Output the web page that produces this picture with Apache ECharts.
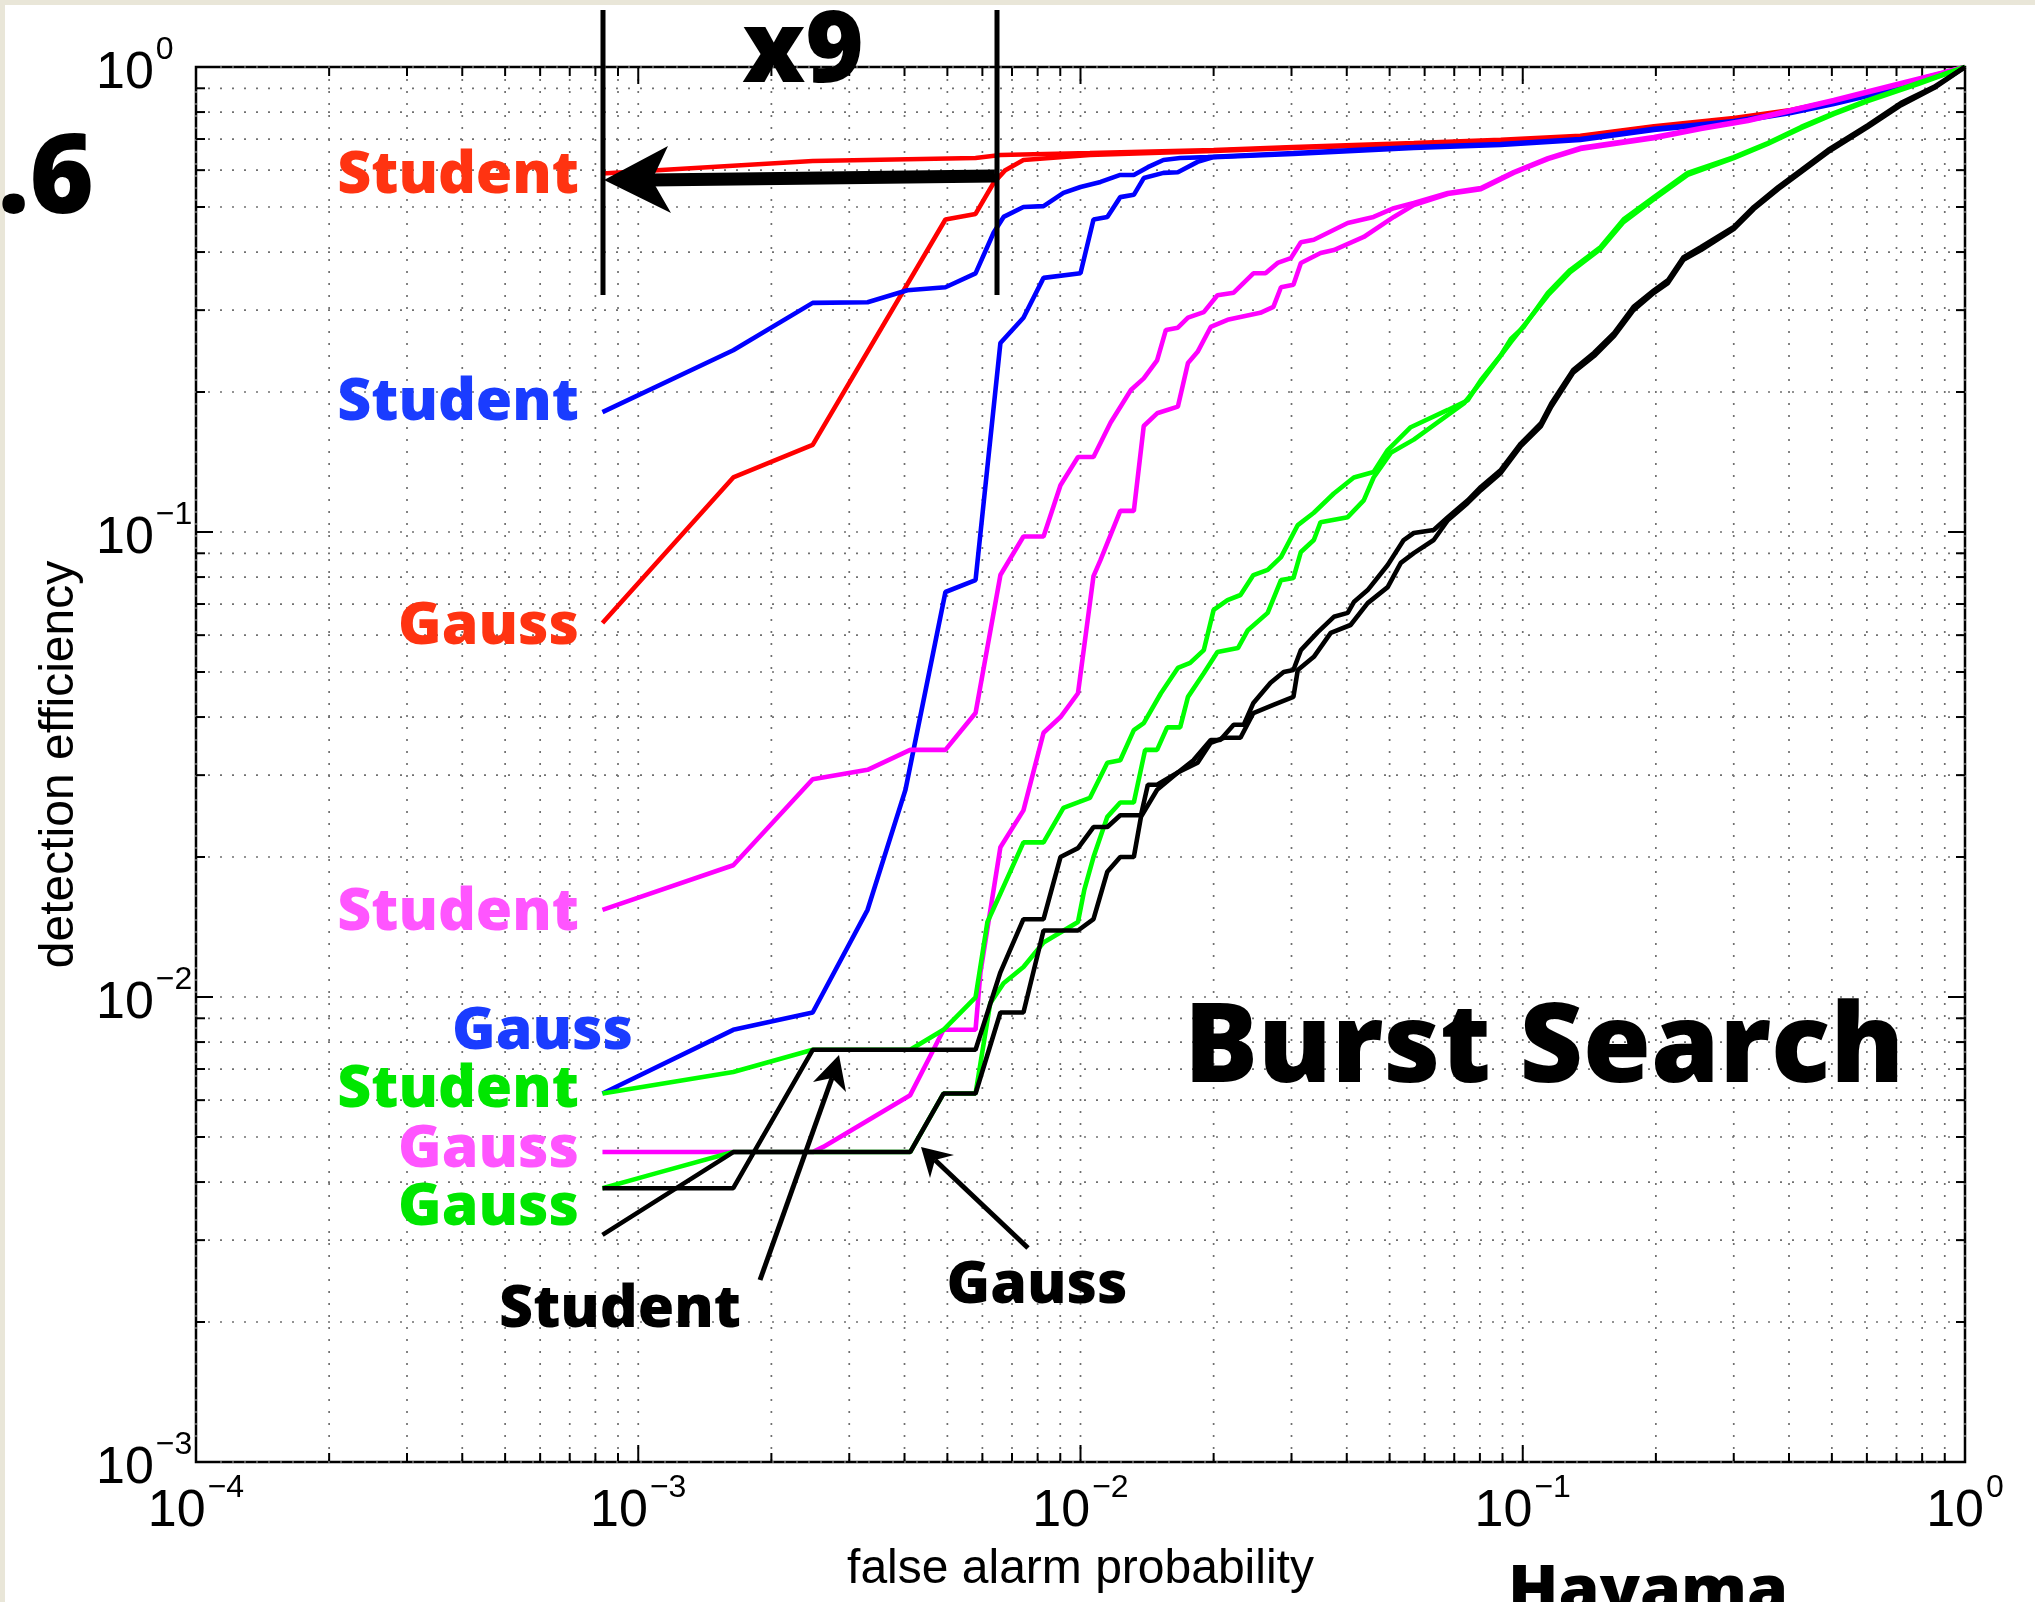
<!DOCTYPE html>
<html>
<head>
<meta charset="utf-8">
<script src="https://cdn.jsdelivr.net/npm/echarts@6/dist/echarts.min.js"></script>
<style>
  html, body { margin: 0; padding: 0; background: #fff; }
  #chart { width: 2035px; height: 1602px; }
</style>
</head>
<body>
<div id="chart"></div>
<script>
// axis ranges and tick positions
const X_MIN = 1e-4, X_MAX = 1, Y_MIN = 1e-3, Y_MAX = 1;
const xDecades = [1e-4, 1e-3, 1e-2, 1e-1];
const yDecades = [1e-3, 1e-2, 1e-1];
const minorSteps = [2, 3, 4, 5, 6, 7, 8, 9];

// curves: [false alarm probability, detection efficiency]
const redStudent = [[8.3e-4,0.590],[2.48e-3,0.628],[5.79e-3,0.637],[6.59e-3,0.647],[1.05e-2,0.653],[2.0e-2,0.663],[3.03e-2,0.673],[5.67e-2,0.686],[8.92e-2,0.697],[0.135,0.711],[0.198,0.746],[0.300,0.777],[0.404,0.808],[0.505,0.845],[0.717,0.910],[1,1]];
const redGauss = [[8.3e-4,0.0637],[1.64e-3,0.131],[2.48e-3,0.154],[4.95e-3,0.470],[5.79e-3,0.483],[6.36e-3,0.563],[6.76e-3,0.600],[7.43e-3,0.631],[1.05e-2,0.647],[2.0e-2,0.660],[3.03e-2,0.670],[5.67e-2,0.683],[8.92e-2,0.694],[0.135,0.709],[0.198,0.743],[0.300,0.773],[0.404,0.804],[0.505,0.841],[0.717,0.906],[1,1]];

const blueStudent = [[8.3e-4,0.181],[1.64e-3,0.246],[2.48e-3,0.311],[3.30e-3,0.312],[4.06e-3,0.331],[4.95e-3,0.336],[5.79e-3,0.360],[6.36e-3,0.440],[6.70e-3,0.476],[7.43e-3,0.500],[8.25e-3,0.502],[9.15e-3,0.536],[1.0e-2,0.552],[1.11e-2,0.566],[1.23e-2,0.586],[1.32e-2,0.586],[1.42e-2,0.609],[1.54e-2,0.631],[1.68e-2,0.637],[1.94e-2,0.640],[3.03e-2,0.653],[5.67e-2,0.673],[8.92e-2,0.683],[0.135,0.700],[0.198,0.736],[0.300,0.765],[0.404,0.800],[0.505,0.837],[0.717,0.903],[1,1]];
const blueGauss = [[8.3e-4,0.0062],[1.64e-3,0.0085],[2.48e-3,0.00926],[3.30e-3,0.0154],[4.02e-3,0.0279],[4.95e-3,0.0743],[5.79e-3,0.0788],[6.59e-3,0.255],[7.43e-3,0.289],[8.25e-3,0.352],[1.0e-2,0.360],[1.07e-2,0.470],[1.15e-2,0.476],[1.23e-2,0.525],[1.32e-2,0.531],[1.39e-2,0.577],[1.54e-2,0.592],[1.66e-2,0.594],[1.84e-2,0.625],[2.0e-2,0.640],[3.03e-2,0.650],[5.67e-2,0.670],[8.92e-2,0.680],[0.135,0.697],[0.198,0.732],[0.300,0.761],[0.404,0.796],[0.505,0.833],[0.717,0.901],[1,1]];

const magentaStudent = [[8.3e-4,0.0154],[1.64e-3,0.0192],[2.48e-3,0.0294],[3.30e-3,0.0308],[4.12e-3,0.034],[4.95e-3,0.034],[5.79e-3,0.0408],[6.59e-3,0.0808],[7.43e-3,0.0978],[8.25e-3,0.0978],[9.01e-3,0.126],[9.87e-3,0.145],[1.07e-2,0.145],[1.17e-2,0.172],[1.30e-2,0.202],[1.39e-2,0.214],[1.49e-2,0.234],[1.56e-2,0.272],[1.66e-2,0.275],[1.75e-2,0.289],[1.90e-2,0.297],[2.04e-2,0.323],[2.22e-2,0.327],[2.46e-2,0.360],[2.62e-2,0.360],[2.79e-2,0.379],[2.99e-2,0.388],[3.15e-2,0.420],[3.37e-2,0.425],[4.02e-2,0.462],[4.60e-2,0.476],[5.11e-2,0.497],[5.67e-2,0.510],[6.77e-2,0.536],[8.04e-2,0.549],[9.54e-2,0.594],[0.114,0.637],[0.135,0.670],[0.198,0.707],[0.253,0.739],[0.323,0.769],[0.404,0.808],[0.505,0.849],[0.717,0.924],[1,1]];
const magentaGauss = [[8.3e-4,0.00464],[1.64e-3,0.00464],[2.48e-3,0.00464],[2.62e-3,0.00476],[4.12e-3,0.00615],[4.65e-3,0.0077],[4.90e-3,0.0085],[5.79e-3,0.0085],[5.94e-3,0.0113],[6.59e-3,0.0210],[7.43e-3,0.0252],[8.25e-3,0.037],[9.01e-3,0.040],[9.87e-3,0.045],[1.07e-2,0.0804],[1.11e-2,0.0871],[1.23e-2,0.111],[1.32e-2,0.111],[1.39e-2,0.169],[1.49e-2,0.180],[1.66e-2,0.186],[1.75e-2,0.231],[1.84e-2,0.244],[1.97e-2,0.276],[2.15e-2,0.286],[2.55e-2,0.296],[2.73e-2,0.305],[2.84e-2,0.336],[3.03e-2,0.340],[3.15e-2,0.379],[3.49e-2,0.398],[3.74e-2,0.404],[4.37e-2,0.431],[5.11e-2,0.476],[5.67e-2,0.505],[6.77e-2,0.533],[8.04e-2,0.546],[9.54e-2,0.592],[0.114,0.634],[0.135,0.666],[0.198,0.703],[0.253,0.736],[0.323,0.765],[0.404,0.804],[0.505,0.845],[0.717,0.919],[1,1]];

const greenStudent = [[8.3e-4,0.0062],[1.64e-3,0.0069],[2.48e-3,0.0077],[4.12e-3,0.0077],[4.90e-3,0.0085],[5.79e-3,0.00998],[6.16e-3,0.0145],[6.59e-3,0.0167],[7.43e-3,0.0215],[8.25e-3,0.0215],[9.15e-3,0.0255],[1.05e-2,0.0268],[1.15e-2,0.0319],[1.23e-2,0.0323],[1.32e-2,0.0375],[1.39e-2,0.0388],[1.52e-2,0.045],[1.66e-2,0.051],[1.77e-2,0.0523],[1.90e-2,0.0557],[2.0e-2,0.068],[2.15e-2,0.0714],[2.30e-2,0.0732],[2.46e-2,0.0808],[2.65e-2,0.0829],[2.84e-2,0.0883],[3.10e-2,0.1035],[3.37e-2,0.110],[3.74e-2,0.121],[4.15e-2,0.131],[4.60e-2,0.1346],[4.95e-2,0.150],[5.58e-2,0.168],[6.77e-2,0.183],[7.51e-2,0.192],[8.04e-2,0.212],[8.92e-2,0.240],[9.40e-2,0.260],[0.1005,0.276],[0.114,0.327],[0.128,0.366],[0.150,0.410],[0.169,0.470],[0.198,0.525],[0.236,0.592],[0.300,0.640],[0.358,0.686],[0.426,0.743],[0.505,0.796],[0.603,0.849],[0.783,0.924],[1,1]];
const greenGauss = [[8.3e-4,0.00388],[1.10e-3,0.00418],[1.64e-3,0.00464],[4.12e-3,0.00464],[4.90e-3,0.0062],[5.79e-3,0.0062],[6.25e-3,0.0097],[6.70e-3,0.0107],[7.43e-3,0.0116],[8.25e-3,0.0131],[9.87e-3,0.0145],[1.02e-2,0.017],[1.07e-2,0.020],[1.15e-2,0.0244],[1.23e-2,0.0262],[1.32e-2,0.0262],[1.40e-2,0.034],[1.49e-2,0.034],[1.57e-2,0.038],[1.68e-2,0.038],[1.75e-2,0.0442],[1.90e-2,0.0497],[2.04e-2,0.0552],[2.27e-2,0.0563],[2.39e-2,0.0615],[2.65e-2,0.067],[2.84e-2,0.0788],[3.03e-2,0.0796],[3.15e-2,0.0906],[3.37e-2,0.0961],[3.49e-2,0.105],[4.02e-2,0.1076],[4.37e-2,0.117],[4.60e-2,0.131],[5.03e-2,0.148],[5.67e-2,0.158],[7.36e-2,0.189],[8.04e-2,0.210],[9.40e-2,0.256],[0.114,0.323],[0.128,0.362],[0.150,0.406],[0.169,0.464],[0.198,0.520],[0.236,0.586],[0.300,0.637],[0.358,0.683],[0.426,0.739],[0.505,0.792],[0.603,0.845],[0.783,0.919],[1,1]];

const blackStudent = [[8.3e-4,0.00388],[1.64e-3,0.00388],[2.48e-3,0.0077],[5.79e-3,0.0077],[6.59e-3,0.0113],[7.43e-3,0.0147],[8.25e-3,0.0147],[9.01e-3,0.020],[9.87e-3,0.0209],[1.07e-2,0.0232],[1.15e-2,0.0232],[1.23e-2,0.0246],[1.37e-2,0.0246],[1.42e-2,0.0286],[1.49e-2,0.0286],[1.66e-2,0.0304],[1.80e-2,0.0323],[1.97e-2,0.0357],[2.07e-2,0.0357],[2.22e-2,0.0385],[2.34e-2,0.0385],[2.46e-2,0.0429],[2.69e-2,0.0474],[2.88e-2,0.050],[3.03e-2,0.0505],[3.15e-2,0.0557],[3.44e-2,0.0609],[3.74e-2,0.0657],[4.02e-2,0.067],[4.15e-2,0.0707],[4.46e-2,0.075],[4.95e-2,0.0849],[5.38e-2,0.0961],[5.67e-2,0.0995],[6.29e-2,0.101],[6.77e-2,0.1076],[7.51e-2,0.117],[8.04e-2,0.125],[8.92e-2,0.136],[9.90e-2,0.155],[0.110,0.1715],[0.116,0.189],[0.130,0.223],[0.145,0.243],[0.161,0.268],[0.178,0.305],[0.198,0.331],[0.213,0.348],[0.231,0.390],[0.253,0.410],[0.300,0.453],[0.333,0.500],[0.378,0.552],[0.426,0.600],[0.490,0.663],[0.603,0.750],[0.717,0.837],[0.851,0.906],[1,1]];
const blackGauss = [[8.3e-4,0.00308],[1.64e-3,0.00464],[4.12e-3,0.00464],[4.90e-3,0.0062],[5.79e-3,0.0062],[6.59e-3,0.00926],[7.43e-3,0.00926],[8.25e-3,0.0139],[9.87e-3,0.0139],[1.07e-2,0.0147],[1.15e-2,0.0186],[1.23e-2,0.020],[1.32e-2,0.020],[1.37e-2,0.0244],[1.49e-2,0.0279],[1.66e-2,0.0304],[1.84e-2,0.0319],[1.97e-2,0.0352],[2.11e-2,0.0361],[2.30e-2,0.0361],[2.46e-2,0.0408],[2.73e-2,0.0425],[3.03e-2,0.0442],[3.10e-2,0.0505],[3.37e-2,0.0539],[3.68e-2,0.0607],[4.08e-2,0.0631],[4.46e-2,0.0703],[4.95e-2,0.0761],[5.30e-2,0.0858],[5.67e-2,0.0901],[6.29e-2,0.0961],[6.77e-2,0.106],[7.51e-2,0.1155],[8.04e-2,0.123],[8.92e-2,0.134],[9.90e-2,0.153],[0.110,0.169],[0.116,0.186],[0.130,0.220],[0.145,0.239],[0.161,0.264],[0.178,0.300],[0.198,0.327],[0.213,0.343],[0.231,0.385],[0.253,0.404],[0.300,0.448],[0.333,0.495],[0.378,0.546],[0.426,0.594],[0.490,0.656],[0.603,0.743],[0.717,0.828],[0.851,0.901],[1,1]];

const curves = [
  { name: 'red Student', data: redStudent, color: '#ff0000' },
  { name: 'red Gauss', data: redGauss, color: '#ff0000' },
  { name: 'blue Student', data: blueStudent, color: '#0000ff' },
  { name: 'blue Gauss', data: blueGauss, color: '#0000ff' },
  { name: 'magenta Student', data: magentaStudent, color: '#ff00ff' },
  { name: 'magenta Gauss', data: magentaGauss, color: '#ff00ff' },
  { name: 'green Student', data: greenStudent, color: '#00ff00' },
  { name: 'green Gauss', data: greenGauss, color: '#00ff00' },
  { name: 'black Student', data: blackStudent, color: '#000000' },
  { name: 'black Gauss', data: blackGauss, color: '#000000' }
];

// grid line / tick positions (1 = decade, 0 = minor)
const xTicks = [];
xDecades.forEach(d => {
  xTicks.push([d, Y_MIN, 1]);
  minorSteps.forEach(k => xTicks.push([k * d, Y_MIN, 0]));
});
xTicks.push([X_MAX, Y_MIN, 1]);
const yTicks = [];
yDecades.forEach(d => {
  yTicks.push([X_MIN, d, 1]);
  minorSteps.forEach(k => yTicks.push([X_MIN, k * d, 0]));
});
yTicks.push([X_MIN, Y_MAX, 1]);

const dotStyle = { stroke: '#707070', lineWidth: 1.7, lineDash: [2, 10] };
const tickStyle = { stroke: '#000', lineWidth: 2 };

function renderXGrid(params, api) {
  const cs = params.coordSys;
  const px = api.coord([api.value(0), Y_MIN])[0];
  const len = api.value(2) ? 17 : 9;
  const top = cs.y, bottom = cs.y + cs.height;
  return {
    type: 'group',
    children: [
      { type: 'line', shape: { x1: px, y1: top, x2: px, y2: bottom }, style: dotStyle },
      { type: 'line', shape: { x1: px, y1: bottom, x2: px, y2: bottom - len }, style: tickStyle },
      { type: 'line', shape: { x1: px, y1: top, x2: px, y2: top + len }, style: tickStyle }
    ]
  };
}

function renderYGrid(params, api) {
  const cs = params.coordSys;
  const py = api.coord([X_MIN, api.value(1)])[1];
  const len = api.value(2) ? 17 : 9;
  const left = cs.x, right = cs.x + cs.width;
  return {
    type: 'group',
    children: [
      { type: 'line', shape: { x1: left, y1: py, x2: right, y2: py }, style: dotStyle },
      { type: 'line', shape: { x1: left, y1: py, x2: left + len, y2: py }, style: tickStyle },
      { type: 'line', shape: { x1: right, y1: py, x2: right - len, y2: py }, style: tickStyle }
    ]
  };
}

// 10^n style tick labels
function powLabel(v) {
  const e = Math.round(Math.log10(v));
  return '{b|10}{s|' + (e < 0 ? '\u2212' + (-e) : e) + '}';
}
const labelRich = {
  b: { fontSize: 52, fontFamily: 'Liberation Sans', color: '#000', verticalAlign: 'bottom', padding: [14, 0, 0, 0] },
  s: { fontSize: 32, fontFamily: 'Liberation Sans', color: '#000', verticalAlign: 'top', padding: [0, 0, 0, 2] }
};

const annoFont = '"Open Sans", "Lato", sans-serif';
function label(text, x, y, color, align) {
  return {
    type: 'text', z: 100, silent: true,
    style: { text: text, x: x, y: y, fill: color, font: '800 59px ' + annoFont, align: align || 'right', verticalAlign: 'middle' }
  };
}

const chart = echarts.init(document.getElementById('chart'));

const option = {
  backgroundColor: '#fff',
  animation: false,
  grid: {
    left: 196, top: 67, width: 1769, height: 1395,
    show: true, borderColor: '#000', borderWidth: 2.5, backgroundColor: '#fff'
  },
  xAxis: {
    type: 'log', logBase: 10, min: X_MIN, max: X_MAX,
    axisLine: { show: false }, axisTick: { show: false }, splitLine: { show: false },
    axisLabel: { formatter: powLabel, rich: labelRich, margin: 10 },
    name: 'false alarm probability', nameLocation: 'middle', nameGap: 84,
    nameTextStyle: { fontFamily: 'Liberation Sans', fontSize: 48, color: '#000' }
  },
  yAxis: {
    type: 'log', logBase: 10, min: Y_MIN, max: Y_MAX,
    axisLine: { show: false }, axisTick: { show: false }, splitLine: { show: false },
    axisLabel: { formatter: powLabel, rich: labelRich, margin: 100, align: 'left' },
    name: 'detection efficiency', nameLocation: 'middle', nameGap: 112,
    nameTextStyle: { fontFamily: 'Liberation Sans', fontSize: 48, color: '#000' }
  },
  series: [
    { type: 'custom', name: 'xgrid', data: xTicks, encode: { x: 0, y: 1 }, renderItem: renderXGrid, silent: true, z: 1 },
    { type: 'custom', name: 'ygrid', data: yTicks, encode: { x: 0, y: 1 }, renderItem: renderYGrid, silent: true, z: 1 }
  ].concat(curves.map(c => ({
    type: 'line', name: c.name, data: c.data, showSymbol: false, symbol: 'none',
    lineStyle: { color: c.color, width: 4.6 }, itemStyle: { color: c.color },
    silent: true, z: 3
  }))),
  graphic: [
    // slide margin
    { type: 'rect', z: 100, shape: { x: 0, y: 0, width: 2035, height: 5 }, style: { fill: '#e9e6d8' } },
    { type: 'rect', z: 100, shape: { x: 0, y: 0, width: 5, height: 1602 }, style: { fill: '#e9e6d8' } },
    // x9 bracket and arrow
    { type: 'line', z: 100, shape: { x1: 603, y1: 10, x2: 603, y2: 295 }, style: { stroke: '#000', lineWidth: 5 } },
    { type: 'line', z: 100, shape: { x1: 997, y1: 10, x2: 997, y2: 295 }, style: { stroke: '#000', lineWidth: 5 } },
    { type: 'line', z: 100, shape: { x1: 995, y1: 176, x2: 650, y2: 180 }, style: { stroke: '#000', lineWidth: 13 } },
    { type: 'polygon', z: 100, shape: { points: [[604, 180], [668, 146], [652, 180], [671, 213]] }, style: { fill: '#000' } },
    { type: 'text', z: 100, style: { text: 'x9', x: 803, y: 54, fill: '#000', font: '800 100px ' + annoFont, align: 'center', verticalAlign: 'middle' } },
    { type: 'text', z: 100, style: { text: '.6', x: 94, y: 182, fill: '#000', font: '800 110px ' + annoFont, align: 'right', verticalAlign: 'middle' } },
    // curve labels
    label('Student', 579, 176, '#ff3311'),
    label('Student', 579, 403, '#1a3cff'),
    label('Gauss', 579, 627, '#ff3311'),
    label('Student', 579, 913, '#ff55ff'),
    label('Gauss', 633, 1032, '#1a3cff'),
    label('Student', 579, 1090, '#00e600'),
    label('Gauss', 579, 1150, '#ff55ff'),
    label('Gauss', 579, 1208, '#00e600'),
    label('Student', 620, 1310, '#000', 'center'),
    label('Gauss', 1037, 1286, '#000', 'center'),
    // pointer arrows for the black labels
    { type: 'line', z: 100, shape: { x1: 760, y1: 1280, x2: 832, y2: 1078 }, style: { stroke: '#000', lineWidth: 5 } },
    { type: 'polygon', z: 100, shape: { points: [[839, 1055], [846, 1092], [832, 1078], [813, 1082]] }, style: { fill: '#000' } },
    { type: 'line', z: 100, shape: { x1: 1028, y1: 1248, x2: 935, y2: 1160 }, style: { stroke: '#000', lineWidth: 5 } },
    { type: 'polygon', z: 100, shape: { points: [[921, 1147], [954, 1155], [935, 1160], [930, 1178]] }, style: { fill: '#000' } },
    // titles
    { type: 'text', z: 100, style: { text: 'Burst Search', x: 1184, y: 1051, fill: '#000', font: '800 110px ' + annoFont, align: 'left', verticalAlign: 'middle' } },
    { type: 'text', z: 100, style: { text: 'Hayama,', x: 1508, y: 1560, fill: '#000', font: '800 66px ' + annoFont, align: 'left', verticalAlign: 'top' } }
  ]
};

chart.setOption(option);
</script>
</body>
</html>
